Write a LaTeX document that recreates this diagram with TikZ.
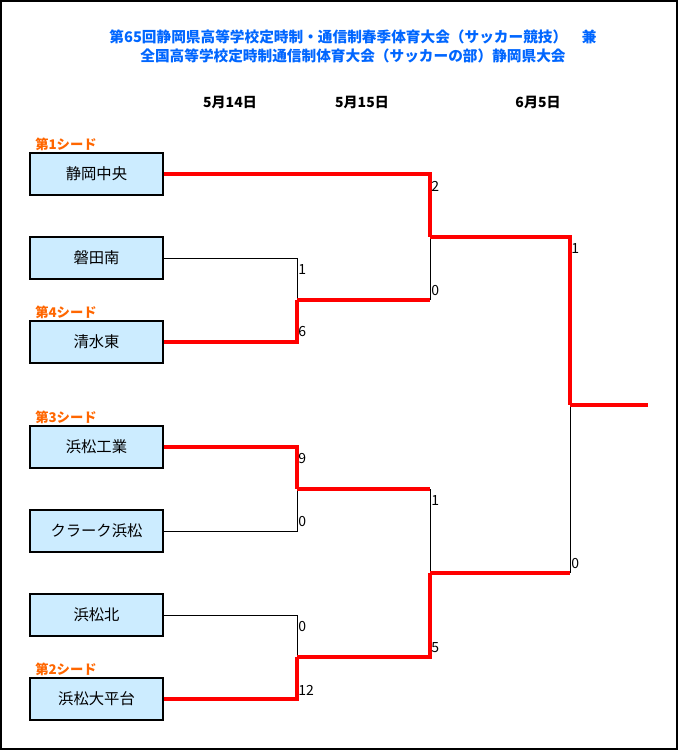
\documentclass[tikz,border=0pt]{standalone}
\usepackage{fontspec}
\setmainfont{Noto Sans CJK JP}
\usetikzlibrary{positioning}

\definecolor{titleblue}{RGB}{0,102,255}
\definecolor{seedorange}{RGB}{255,102,0}
\definecolor{teamfill}{RGB}{204,236,255}
\definecolor{winred}{RGB}{255,0,0}

\tikzset{
  team/.style={draw=black, fill=teamfill, line width=0.9pt, minimum width=99.75pt,
    minimum height=31.5pt, inner sep=0pt, font=\fontsize{11.5}{13}\selectfont},
  seed/.style={anchor=west, inner sep=0pt, text=seedorange, font=\fontsize{10}{12}\selectfont\bfseries},
  datelabel/.style={inner sep=0pt, font=\fontsize{10.5}{12}\selectfont\bfseries},
  score/.style={anchor=west, inner sep=0pt, font=\fontsize{10.5}{12}\selectfont},
  win/.style={draw=winred, line width=2.3pt},
  lose/.style={draw=black, line width=0.75pt}
}

\begin{document}
\begin{tikzpicture}[x=0.75pt, y=-0.75pt]
            \useasboundingbox (0,0) rectangle (678,751);
            \draw[black, line width=1.1pt] (1,1) rectangle (677,749);

            % title
            \node[text=titleblue, font=\fontsize{11}{13}\selectfont\bfseries] (title1) at (353,37)
                {第65回静岡県高等学校定時制・通信制春季体育大会（サッカー競技）　兼};
            \node[text=titleblue, font=\fontsize{11}{13}\selectfont\bfseries] (title2) at (353,56)
                {全国高等学校定時制通信制体育大会（サッカーの部）静岡県大会};

            % dates
            \node[datelabel] (day1) at (230,102) {5月14日};
            \node[datelabel] (day2) at (362,102) {5月15日};
            \node[datelabel] (day3) at (538,102) {6月5日};

            % teams
            \node[team] (shizuoka) at (96.5,174) {静岡中央};
            \node[team] (iwata)    at (96.5,258) {磐田南};
            \node[team] (shimizu)  at (96.5,342) {清水東};
            \node[team] (hamako)   at (96.5,447) {浜松工業};
            \node[team] (clark)    at (96.5,531) {クラーク浜松};
            \node[team] (kita)     at (96.5,615) {浜松北};
            \node[team] (ohira)    at (96.5,699) {浜松大平台};

            % seeds
            \node[seed] (seed1) at (35,144) {第1シード};
            \node[seed] (seed4) at (35,312) {第4シード};
            \node[seed] (seed3) at (35,417) {第3シード};
            \node[seed] (seed2) at (35,669) {第2シード};

            % junctions
            \coordinate (r1a) at (297,300);
            \coordinate (r1b) at (297,489);
            \coordinate (r1c) at (297,657);
            \coordinate (r2a) at (430,237);
            \coordinate (r2b) at (430,573);
            \coordinate (fin) at (570,405);
            \coordinate (champ) at (648,405);

            % first round
            \draw[lose] (iwata.east) -| (r1a);
            \draw[win] (shimizu.east) -| (r1a);
            \draw[win] (hamako.east) -| (r1b);
            \draw[lose] (clark.east) -| (r1b);
            \draw[lose] (kita.east) -| (r1c);
            \draw[win] (ohira.east) -| (r1c);

            % second round
            \draw[lose] (r1a -| r2a) -- (r2a);
            \draw[win] (r1a) -- (r1a -| r2a);
            \draw[win] (shizuoka.east) -| (r2a);
            \draw[lose] (r1b -| r2b) -- (r2b);
            \draw[win] (r1b) -- (r1b -| r2b);
            \draw[win] (r1c) -| (r2b);

            % final
            \draw[lose] (r2b -| fin) -- (fin);
            \draw[win] (r2b) -- (r2b -| fin);
            \draw[win] (r2a) -| (fin);
            \draw[win] (fin) -- (champ);

            % scores
            \node[score] (s1) at (298,270) {1};
            \node[score] (s2) at (298,332) {6};
            \node[score] (s3) at (298,459) {9};
            \node[score] (s4) at (298,522) {0};
            \node[score] (s5) at (298,627) {0};
            \node[score] (s6) at (298,690) {12};
            \node[score] (s7) at (431,186) {2};
            \node[score] (s8) at (431,291) {0};
            \node[score] (s9) at (431,501) {1};
            \node[score] (s10) at (431,648) {5};
            \node[score] (s11) at (571,249) {1};
            \node[score] (s12) at (571,564) {0};
        \end{tikzpicture}
\end{document}
